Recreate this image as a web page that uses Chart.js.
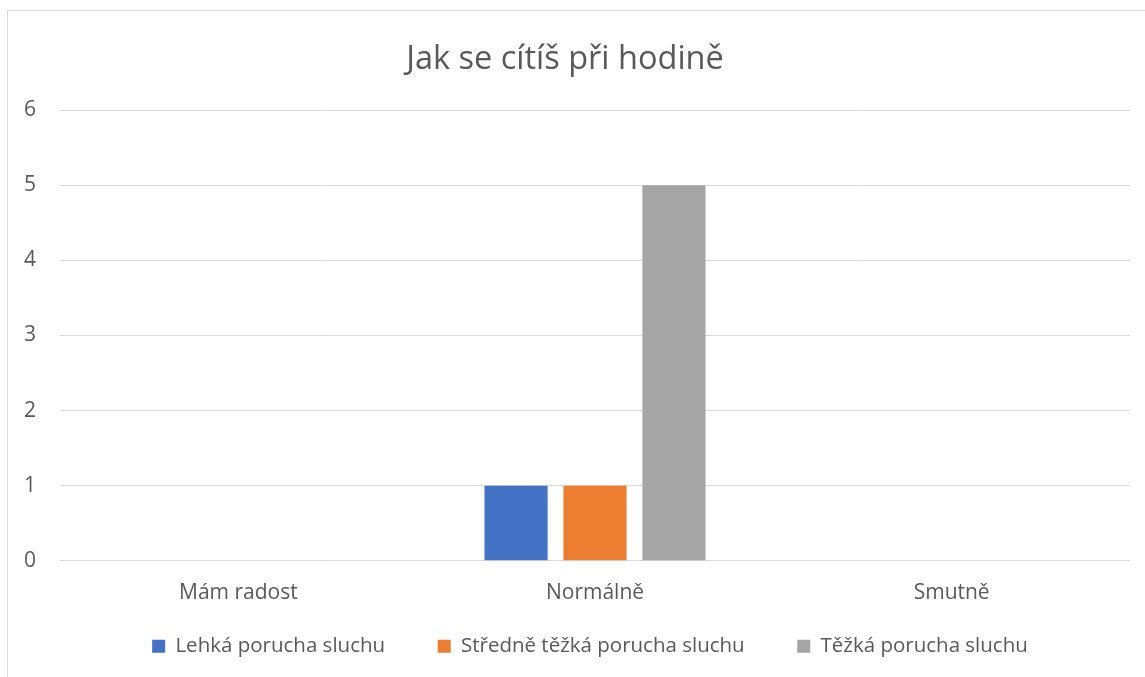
<!DOCTYPE html>
<html>
<head>
<meta charset="utf-8">
<script src="https://cdn.jsdelivr.net/npm/chart.js@4"></script>
<style>
    html, body { margin: 0; padding: 0; background: #fff; }
    #frame { position: absolute; left: 7px; top: 10px; width: 1200px; height: 720px; border: 1px solid #d9d9d9; }
    #wrap { position: absolute; left: 0; top: 0; width: 1145px; height: 677px; }
</style>
</head>
<body>
<div id="frame"></div>
<div id="wrap"><canvas id="chart"></canvas></div>
<script>
const categories = ['Mám radost', 'Normálně', 'Smutně'];
const seriesNames = ['Lehká porucha sluchu', 'Středně těžká porucha sluchu', 'Těžká porucha sluchu'];
const lehka = [0, 1, 0];
const stredne = [0, 1, 0];
const tezka = [0, 5, 0];
const yTicks = [0, 1, 2, 3, 4, 5, 6];
const colors = ['#4472C4', '#ED7D31', '#A5A5A5'];

const fontFamily = '"Open Sans", "Noto Sans", sans-serif';
const textColor = '#595959';

// the original legend sits a little right of the centre
const legendShift = {
    id: 'legendShift',
    afterLayout(chart) {
        chart.legend.left += 25;
        chart.legend.right += 25;
    }
};

const ctx = document.getElementById('chart').getContext('2d');
const chart = new Chart(ctx, {
    type: 'bar',
    data: {
        labels: categories,
        datasets: [lehka, stredne, tezka].map((d, i) => ({
            label: seriesNames[i],
            data: d,
            backgroundColor: colors[i],
            borderWidth: 0,
            categoryPercentage: 0.664,
            barPercentage: 0.8
        }))
    },
    options: {
        responsive: true,
        maintainAspectRatio: false,
        animation: false,
        layout: { padding: { left: 0, right: 15, top: 0, bottom: 10.5 } },
        plugins: {
            title: {
                display: true,
                text: 'Jak se cítíš při hodině',
                color: textColor,
                font: { family: fontFamily, size: 32.5, weight: 'normal' },
                padding: { top: 40, bottom: 31 }
            },
            legend: {
                position: 'bottom',
                labels: {
                    color: textColor,
                    font: { family: fontFamily, size: 20.5 },
                    boxWidth: 13,
                    boxHeight: 13,
                    padding: 10,
                    // wider gap after the first two items, as in the original legend
                    generateLabels: c => Chart.defaults.plugins.legend.labels.generateLabels(c)
                        .map((item, i, all) => i < all.length - 1 ? { ...item, text: item.text + '        ' } : item)
                }
            },
            tooltip: { enabled: false }
        },
        scales: {
            x: {
                grid: { display: false, drawTicks: false },
                border: { display: false },
                ticks: { color: textColor, font: { family: fontFamily, size: 21 }, padding: 20 }
            },
            y: {
                min: 0,
                max: 6,
                afterFit: s => { s.width = 60; },
                afterBuildTicks: s => { s.ticks = yTicks.map(v => ({ value: v })); },
                grid: { color: '#d9d9d9', lineWidth: 1, drawTicks: false },
                border: { display: false },
                ticks: { color: textColor, font: { family: fontFamily, size: 21 }, padding: 24 }
            }
        }
    },
    plugins: [legendShift]
});
</script>
</body>
</html>
